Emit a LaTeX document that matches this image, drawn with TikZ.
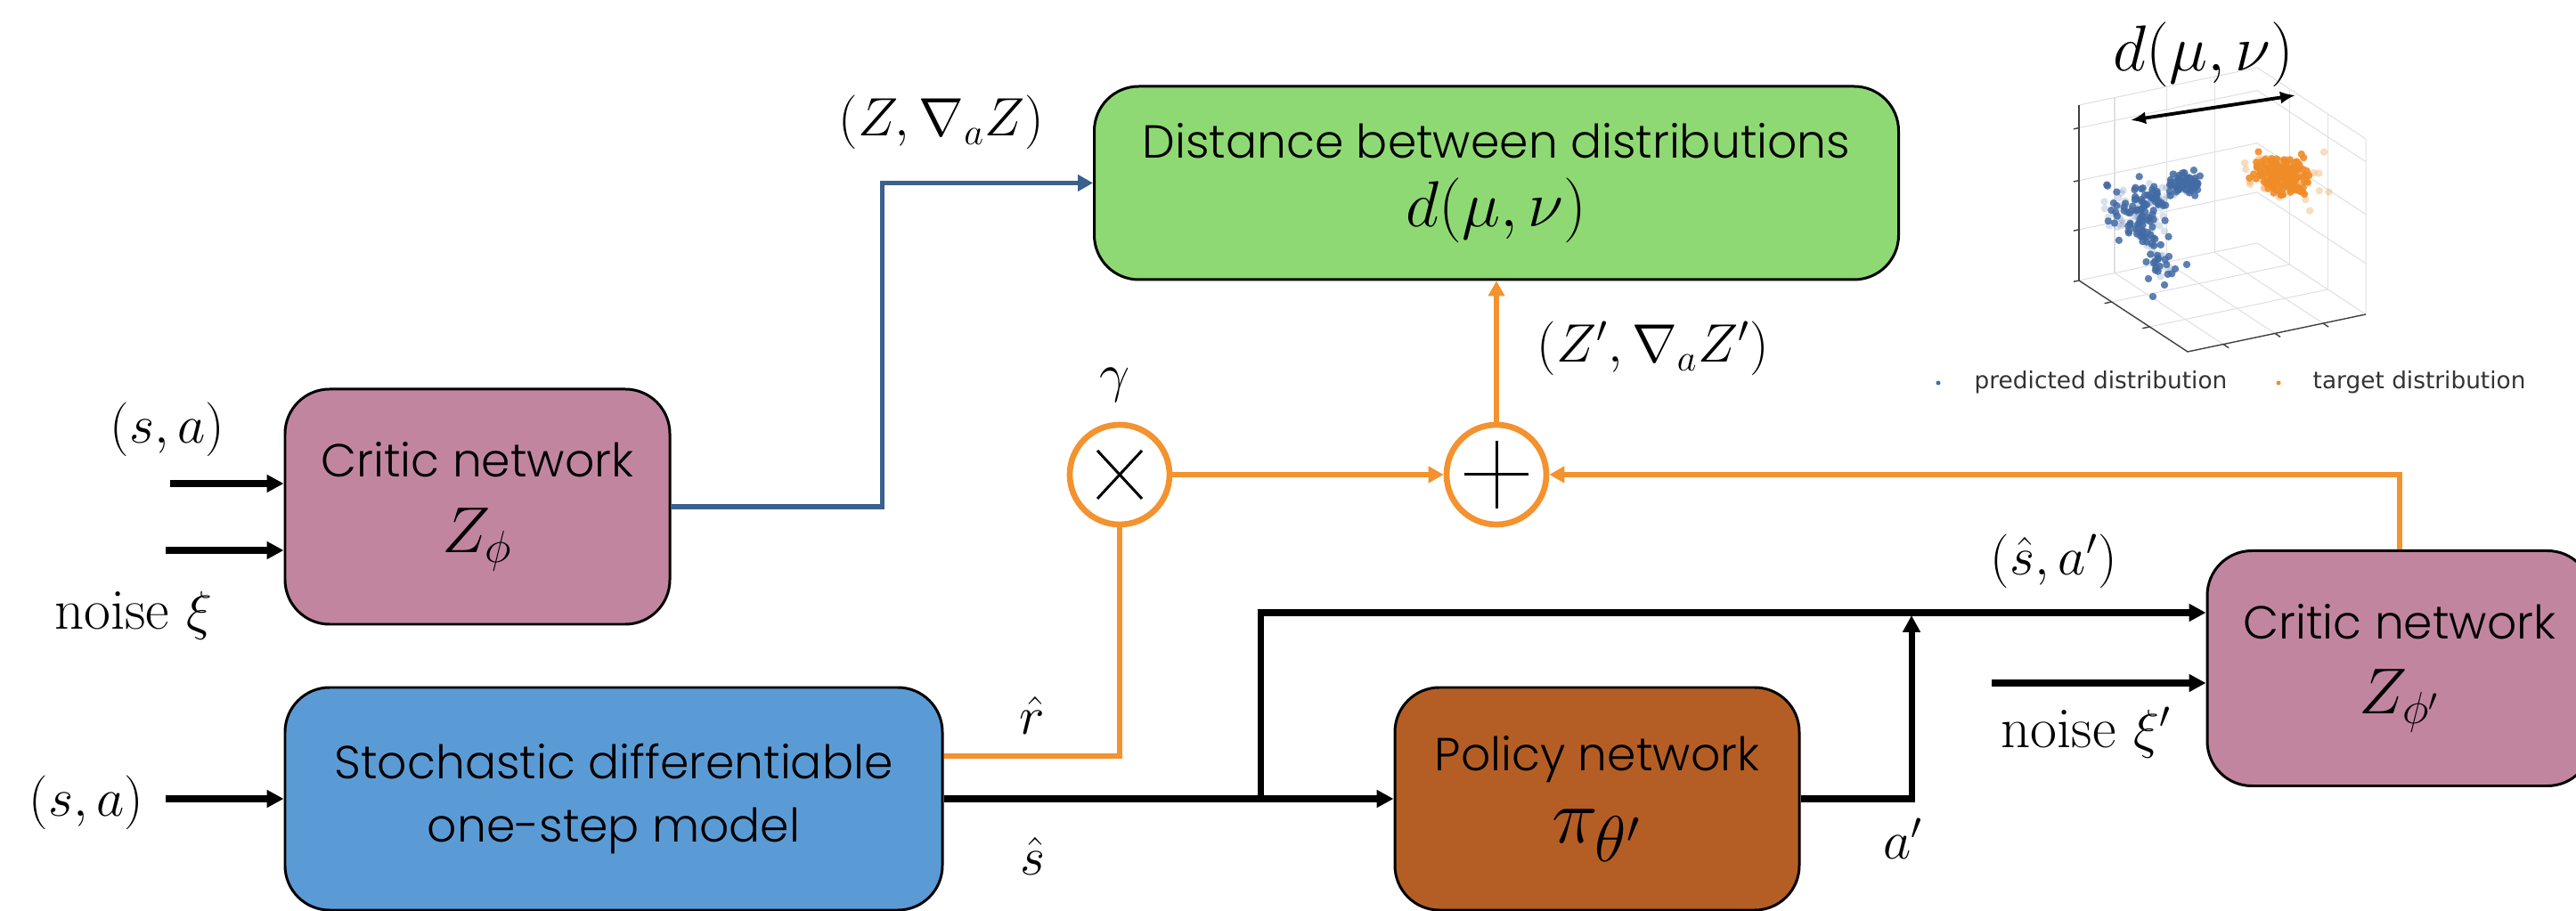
\documentclass[tikz,border=0pt]{standalone}
\usepackage{amsmath}
\usepackage{fontspec}
\usetikzlibrary{positioning,arrows.meta}
\IfFontExistsTF{Poppins Light}{\newfontfamily\boxfont{Poppins Light}}{\newfontfamily\boxfont{Poppins}}
\newfontfamily\legendfont{DejaVu Sans}

\definecolor{criticpink}{RGB}{194,133,160}
\definecolor{modelblue}{RGB}{91,155,213}
\definecolor{policybrown}{RGB}{180,94,37}
\definecolor{distgreen}{RGB}{143,217,116}
\definecolor{sumorange}{RGB}{243,146,47}
\definecolor{gradblue}{RGB}{58,96,142}
\definecolor{predblue}{RGB}{66,106,163}
\definecolor{targetorange}{RGB}{240,140,40}

\newcommand{\bigmath}[1]{{\fontsize{20.5}{24}\selectfont$#1$}}

\tikzset{
  box/.style={draw=black, line width=0.85pt, rounded corners=0.5cm, align=center,
    inner sep=0pt, font=\boxfont\fontsize{14.8}{18}\selectfont},
  criticbox/.style={box, fill=criticpink, minimum width=4.32cm, minimum height=2.64cm},
  flow/.style={line width=2pt, -{Triangle[length=0.19cm,width=0.19cm]}},
  orangeflow/.style={draw=sumorange, line width=1.7pt, -{Triangle[length=0.17cm,width=0.18cm]}},
  opnode/.style={circle, draw=sumorange, line width=1.9pt, minimum size=1.12cm, fill=white},
  lbl/.style={font=\fontsize{18.5}{22}\selectfont, inner sep=0pt, anchor=base},
  gridline/.style={black!12, line width=0.3pt},
  axisline/.style={black!75, line width=0.4pt},
  dot/.style={fill=#1, fill opacity=\op},
}

\begin{document}
\begin{tikzpicture}
  \useasboundingbox (0,0) rectangle (28.92,-10.23);

  % blocks
  \node[criticbox] (critic) at (5.36,-5.69) {Critic network\\[6pt]\bigmath{Z_\phi}};
  \node[box, fill=modelblue, minimum width=7.38cm, minimum height=2.5cm] (model) at (6.89,-8.97)
    {Stochastic differentiable\\[2pt]one-step model};
  \node[box, fill=policybrown, minimum width=4.54cm, minimum height=2.5cm] (policy) at (17.93,-8.97)
    {Policy network\\[5pt]{\fontsize{30}{34}\selectfont$\pi_{\theta'}$}};
  \node[box, fill=distgreen, minimum width=9.03cm, minimum height=2.17cm] (dist) at (16.80,-2.055)
    {Distance between distributions\\[4pt]{\fontsize{21.5}{25}\selectfont$d(\mu,\nu)$}};
  \node[criticbox] (criticp) at (26.94,-7.505) {Critic network\\[6pt]\bigmath{Z_{\phi'}}};

  \node[opnode] (times) at (12.57,-5.33) {};
  \node[opnode] (plus) at (16.80,-5.33) {};
  \draw[line width=0.85pt] ([shift={(-0.25,-0.27)}]times.center) -- ([shift={(0.25,0.27)}]times.center)
    ([shift={(-0.25,0.27)}]times.center) -- ([shift={(0.25,-0.27)}]times.center);
  \draw[line width=0.85pt] ([xshift=-0.36cm]plus.center) -- ([xshift=0.36cm]plus.center)
    ([yshift=-0.38cm]plus.center) -- ([yshift=0.38cm]plus.center);

  % inputs
  \coordinate (sa1) at (1.91,-5.43);
  \coordinate (nz1) at (1.86,-6.18);
  \coordinate (sa2) at (1.86,-8.97);
  \coordinate (nz2) at (22.36,-7.67);
  \coordinate (fork) at (14.15,-8.97);
  \coordinate (ajoin) at (21.46,-6.91);

  \draw[flow] (sa1) -- (sa1 -| critic.west);
  \draw[flow] (nz1) -- (nz1 -| critic.west);
  \draw[flow] (sa2) -- (model.west);
  \draw[flow] (nz2) -- (nz2 -| criticp.west);

  % connectors
  \draw[draw=gradblue, line width=1.7pt, -{Triangle[length=0.17cm,width=0.18cm]}]
    (critic.east) -- ++(2.37,0) |- (dist.west);
  \draw[draw=sumorange, line width=1.7pt] ([yshift=0.48cm]model.east) -| (times.south);
  \draw[orangeflow] (times) -- (plus);
  \draw[orangeflow] (plus) -- (dist);
  \draw[orangeflow] (criticp.north) |- (plus);
  \draw[flow] (model.east) -- (policy.west);
  \draw[flow] (fork) |- ([yshift=0.625cm]criticp.west);
  \draw[flow] (policy.east) -| (ajoin);

  % labels
  \node[lbl] (lsa1) at (1.88,-4.98) {$(s,a)$};
  \node[lbl] (lnz1) at (1.50,-7.07) {$\mathrm{noise}\ \xi$};
  \node[lbl] (lsa2) at (0.97,-9.17) {$(s,a)$};
  \node[lbl] (lr) at (11.59,-8.25) {$\hat{r}$};
  \node[lbl] (ls) at (11.59,-9.83) {$\hat{s}$};
  \node[lbl] (lgam) at (12.52,-4.40) {$\gamma$};
  \node[lbl] (lz) at (10.57,-1.53) {$(Z,\nabla_a Z)$};
  \node[lbl] (lzp) at (18.56,-4.07) {$(Z',\nabla_a Z')$};
  \node[lbl] (lsap) at (23.06,-6.46) {$(\hat{s},a')$};
  \node[lbl] (lnz2) at (23.42,-8.40) {$\mathrm{noise}\ \xi'$};
  \node[lbl] (lap) at (21.37,-9.65) {$a'$};

  % scatter plot of the two distributions
  \begin{scope}[shift={(23.34,-3.15)}, x={(2.00cm,0.42cm)}, y={(1.22cm,-0.80cm)}, z={(0cm,1.97cm)}]
    \foreach \t in {0.2,0.49,0.76}{
      \draw[gridline] (\t,0,0) -- (\t,0,1);
      \draw[gridline] (\t,0,0) -- (\t,1,0);
    }
    \foreach \t in {0.3,0.65}{
      \draw[gridline] (1,\t,0) -- (1,\t,1);
      \draw[gridline] (0,\t,0) -- (1,\t,0);
    }
    \foreach \t in {0.29,0.57,0.87}{
      \draw[gridline] (0,0,\t) -- (1,0,\t) -- (1,1,\t);
    }
    \draw[gridline] (0,0,1) -- (1,0,1) -- (1,1,1) -- (1,1,0);
    \draw[gridline] (0,0,0) -- (1,0,0) -- (1,1,0);
    \draw[axisline] (0,0,0) -- (0,0,1);
    \draw[axisline] (0,0,0) -- (0,1,0) -- (1,1,0);
    \foreach \t in {0,0.29,0.57,0.87}
      \draw[axisline] (0,0,\t) -- ++(-0.03,0,0);
    \foreach \t in {0.2,0.49,0.76}
      \draw[axisline] (\t,1,0) -- ++(0,0.05,0);
    \foreach \t in {0.3,0.65}
      \draw[axisline] (0,\t,0) -- ++(-0.04,0,0);
  \end{scope}

  \pgfmathsetseed{11}
  % predicted: core, right arm, lower trunk
  \foreach \i in {1,...,120}{
    \pgfmathsetmacro{\px}{24.00+0.16*(rand+rand+rand)}
    \pgfmathsetmacro{\py}{-2.36+0.17*(rand+rand+rand)}
    \pgfmathsetmacro{\op}{0.2+0.65*(rand>0)}
    \fill[dot=predblue] (\px,\py) circle (0.042);
  }
  \foreach \i in {1,...,40}{
    \pgfmathsetmacro{\tpos}{0.5+0.5*rand}
    \pgfmathsetmacro{\px}{24.08+0.55*\tpos+0.05*(rand+rand)}
    \pgfmathsetmacro{\py}{-2.30+0.28*\tpos+0.05*(rand+rand)}
    \pgfmathsetmacro{\op}{0.2+0.65*(rand>0)}
    \fill[dot=predblue] (\px,\py) circle (0.042);
  }
  \foreach \i in {1,...,55}{
    \pgfmathsetmacro{\px}{24.54+0.08*(rand+rand+rand)}
    \pgfmathsetmacro{\py}{-2.05+0.06*(rand+rand+rand)}
    \pgfmathsetmacro{\op}{0.25+0.6*(rand>-0.3)}
    \fill[dot=predblue] (\px,\py) circle (0.042);
  }
  \foreach \i in {1,...,55}{
    \pgfmathsetmacro{\tpos}{0.5+0.5*rand}
    \pgfmathsetmacro{\px}{24.02+0.25*\tpos+0.07*(rand+rand)}
    \pgfmathsetmacro{\py}{-2.45-0.60*\tpos+0.05*(rand+rand)}
    \pgfmathsetmacro{\op}{0.2+0.65*(rand>0.1)}
    \fill[dot=predblue] (\px,\py) circle (0.042);
  }
  \foreach \px/\py in {24.17/-3.33, 24.55/-2.97, 24.42/-3.02, 24.30/-3.20, 24.12/-3.13, 24.35/-2.88}
    \fill[predblue, fill opacity=0.85] (\px,\py) circle (0.042);
  % target
  \foreach \i in {1,...,230}{
    \pgfmathsetmacro{\px}{25.62+0.14*(rand+rand+rand)}
    \pgfmathsetmacro{\py}{-1.97+0.10*(rand+rand+rand)}
    \pgfmathsetmacro{\op}{0.3+0.6*(rand>-0.4)}
    \fill[dot=targetorange] (\px,\py) circle (0.042);
  }
  \foreach \i in {1,...,30}{
    \pgfmathsetmacro{\px}{25.60+0.22*(rand+rand+rand)}
    \pgfmathsetmacro{\py}{-1.99+0.15*(rand+rand+rand)}
    \pgfmathsetmacro{\op}{0.3}
    \fill[dot=targetorange] (\px,\py) circle (0.042);
  }

  \coordinate (dl) at (23.92,-1.35);
  \coordinate (dr) at (25.77,-1.07);
  \draw[line width=1.1pt, {Latex[length=0.17cm,width=0.14cm]}-{Latex[length=0.17cm,width=0.14cm]}] (dl) -- (dr);
  \node[lbl, font=\fontsize{21.5}{25}\selectfont] (ldist) at (24.74,-0.80) {$d(\mu,\nu)$};

  % legend
  \fill[predblue] (21.76,-4.30) circle (0.025);
  \node[font=\legendfont\fontsize{7.5}{9}\selectfont, text=black!80, anchor=base west, inner sep=0pt]
    (lpred) at (22.16,-4.37) {predicted distribution};
  \fill[targetorange] (25.58,-4.30) circle (0.025);
  \node[font=\legendfont\fontsize{7.5}{9}\selectfont, text=black!80, anchor=base west, inner sep=0pt]
    (ltarg) at (25.96,-4.37) {target distribution};
\end{tikzpicture}
\end{document}
